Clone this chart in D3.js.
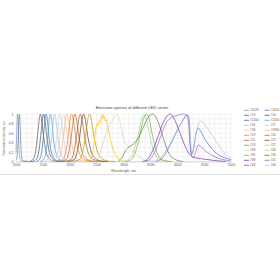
<!DOCTYPE html>
<html><head><meta charset="utf-8">
<script src="https://cdn.jsdelivr.net/npm/d3@7"></script>
<style>html,body{margin:0;padding:0;background:#fff;}svg{display:block;font-family:"Liberation Sans",Arial,sans-serif;}</style>
</head><body><svg id="c" width="280" height="280"></svg>
<script>
// ---- data ----
const seriesNames = ["#1025","#1050","#13","#14","#1200","#1550","#16","#17","#18","#1900","#19","#20",
                     "#21","#22","#23","#27","#28","#34","#35","#36","#38","#41","#43","#44"];
const seriesColors = ["#8497B0","#6B7FAD","#595959","#44546A","#2E75B6","#5B9BD5","#9DC3E6","#BDD7EE",
                      "#F8CBAD","#F4B183","#ED7D31","#C55A11","#A0612A","#843C0C","#BF9000","#FFC000",
                      "#C5E0B4","#A9D18E","#70AD47","#548235","#7030A0","#9966CC","#4472C4","#B4C7E7"];
const xTicks = [1000,1500,2000,2500,3000,3500,4000,4500,5000];
const yTicks = [0,0.2,0.4,0.6,0.8,1];

const s1025 = [[1000,0.18],[1010,0.45],[1020,0.85],[1030,1],[1040,0.85],[1050,0.45],[1065,0.15],[1080,0.04],[1100,0.01],[1200,0]];
const s1050 = [[1000,0.02],[1020,0.1],[1040,0.45],[1055,0.9],[1062,1],[1070,0.9],[1085,0.45],[1100,0.15],[1120,0.04],[1150,0.01],[1300,0]];
const s13 = [[1250,0],[1320,0.05],[1370,0.25],[1410,0.65],[1440,0.95],[1455,1],[1475,0.9],[1510,0.55],[1560,0.2],[1620,0.06],[1700,0.01],[1800,0]];
const s14 = [[1300,0],[1380,0.05],[1430,0.25],[1470,0.65],[1500,0.95],[1515,1],[1535,0.9],[1570,0.55],[1620,0.2],[1680,0.06],[1760,0.01],[1850,0]];
const s1200 = [[1380,0],[1440,0.05],[1490,0.3],[1525,0.7],[1550,0.97],[1562,1],[1580,0.9],[1615,0.5],[1660,0.18],[1720,0.05],[1800,0.01],[1900,0]];
const s1550 = [[1450,0],[1520,0.05],[1570,0.3],[1605,0.7],[1630,0.97],[1642,1],[1660,0.9],[1695,0.5],[1745,0.18],[1810,0.05],[1900,0.01],[2000,0]];
const s16 = [[1520,0],[1590,0.05],[1640,0.3],[1680,0.7],[1708,0.97],[1720,1],[1740,0.9],[1780,0.5],[1830,0.18],[1900,0.05],[2000,0.01],[2100,0]];
const s17 = [[1600,0],[1680,0.05],[1735,0.3],[1775,0.7],[1805,0.97],[1820,1],[1842,0.9],[1885,0.5],[1940,0.18],[2010,0.05],[2100,0.01],[2200,0]];
const s18 = [[1650,0],[1740,0.05],[1795,0.3],[1840,0.7],[1873,0.97],[1890,1],[1912,0.9],[1958,0.5],[2015,0.18],[2090,0.05],[2180,0.01],[2300,0]];
const s1900 = [[1710,0],[1800,0.05],[1855,0.3],[1900,0.7],[1933,0.97],[1950,1],[1972,0.9],[2018,0.5],[2075,0.18],[2150,0.05],[2240,0.01],[2360,0]];
const s19 = [[1780,0],[1880,0.05],[1940,0.3],[1988,0.7],[2022,0.97],[2040,1],[2064,0.9],[2114,0.5],[2175,0.18],[2255,0.05],[2350,0.01],[2470,0]];
const s20 = [[1840,0],[1940,0.05],[2000,0.3],[2048,0.7],[2082,0.97],[2100,1],[2124,0.9],[2174,0.5],[2235,0.18],[2315,0.05],[2410,0.01],[2530,0]];
const s21 = [[1920,0],[2030,0.05],[2095,0.3],[2145,0.7],[2182,0.97],[2200,1],[2226,0.9],[2280,0.5],[2345,0.18],[2430,0.05],[2530,0.01],[2650,0]];
const s22 = [[1980,0],[2090,0.05],[2155,0.3],[2205,0.7],[2242,0.97],[2260,1],[2286,0.9],[2340,0.5],[2405,0.18],[2490,0.05],[2590,0.01],[2710,0]];
const s23 = [[2070,0],[2190,0.05],[2260,0.3],[2313,0.7],[2352,0.97],[2370,1],[2398,0.9],[2455,0.5],[2525,0.18],[2615,0.05],[2720,0.01],[2850,0]];
const s27 = [[2300,0],[2380,0.05],[2430,0.2],[2460,0.45],[2490,0.72],[2510,0.8],[2530,0.76],[2550,0.86],[2570,0.82],[2590,0.95],[2610,1],[2625,0.9],[2640,0.96],[2660,0.85],[2680,0.88],[2700,0.75],[2730,0.62],[2760,0.45],[2800,0.28],[2850,0.14],[2900,0.06],[2960,0.02],[3050,0]];
const s28 = [[2450,0],[2530,0.08],[2600,0.3],[2650,0.5],[2700,0.65],[2750,0.78],[2800,0.88],[2850,0.97],[2880,1],[2920,0.9],[2960,0.7],[3000,0.48],[3050,0.36],[3120,0.3],[3200,0.2],[3300,0.09],[3400,0.03],[3550,0]];
const s34 = [[3000,0],[3100,0.05],[3200,0.25],[3280,0.6],[3340,0.9],[3380,1],[3420,0.92],[3480,0.6],[3540,0.3],[3600,0.12],[3700,0.03],[3850,0]];
const s35 = [[3050,0],[3150,0.05],[3250,0.3],[3330,0.7],[3390,0.95],[3430,1],[3470,0.93],[3530,0.6],[3590,0.3],[3660,0.1],[3760,0.02],[3900,0]];
const s36 = [[2900,0],[2980,0.1],[3050,0.25],[3120,0.32],[3200,0.38],[3300,0.55],[3400,0.8],[3480,0.96],[3540,1],[3600,0.94],[3680,0.72],[3760,0.42],[3850,0.16],[3950,0.05],[4100,0]];
const s38 = [[3350,0],[3450,0.05],[3550,0.25],[3650,0.55],[3750,0.85],[3830,0.98],[3870,1],[3920,0.95],[4000,0.75],[4100,0.45],[4200,0.2],[4300,0.09],[4500,0.05],[4700,0.02],[4900,0]];
const s41 = [[3400,0],[3500,0.05],[3600,0.25],[3700,0.55],[3800,0.82],[3900,0.93],[4000,0.97],[4100,1],[4180,0.97],[4220,0.7],[4250,0.2],[4290,0.08],[4330,0.15],[4390,0.35],[4450,0.3],[4550,0.2],[4700,0.1],[4850,0.04],[5000,0.01]];
const s43 = [[3600,0],[3700,0.05],[3800,0.2],[3900,0.42],[4000,0.65],[4100,0.86],[4180,0.98],[4215,0.95],[4240,0.4],[4270,0.15],[4310,0.3],[4350,0.6],[4390,0.7],[4430,0.65],[4500,0.5],[4600,0.33],[4700,0.2],[4800,0.12],[4900,0.07],[5000,0.04]];
const s44 = [[3500,0],[3650,0.05],[3800,0.25],[3900,0.45],[4000,0.67],[4100,0.85],[4180,0.95],[4225,0.9],[4250,0.4],[4275,0.2],[4310,0.35],[4370,0.7],[4420,0.84],[4460,0.85],[4530,0.75],[4620,0.6],[4720,0.43],[4820,0.26],[4920,0.13],[5000,0.07]];

const spectra = [s1025,s1050,s13,s14,s1200,s1550,s16,s17,s18,s1900,s19,s20,
                 s21,s22,s23,s27,s28,s34,s35,s36,s38,s41,s43,s44];

// ---- chart ----
const svg = d3.select("#c");
const x = d3.scaleLinear().domain([1000,5000]).range([16,231]);
const y = d3.scaleLinear().domain([0,1]).range([161.5,114]);

// bottom chart border
svg.append("line").attr("x1",0).attr("x2",280).attr("y1",174.5).attr("y2",174.5)
   .attr("stroke","#d9d9d9").attr("stroke-width",0.8);

// gridlines
const g = svg.append("g");
g.selectAll(".vg").data(d3.range(1000,5001,100)).join("line")
  .attr("x1",d=>x(d)).attr("x2",d=>x(d)).attr("y1",y(1)).attr("y2",y(0))
  .attr("stroke","#e6e6e6").attr("stroke-width",0.5);
g.selectAll(".hg").data(d3.range(0,11).map(i=>i/10)).join("line")
  .attr("x1",x(1000)).attr("x2",x(5000)).attr("y1",d=>y(d)).attr("y2",d=>y(d))
  .attr("stroke","#e6e6e6").attr("stroke-width",0.5);

// axes
const xAxis = d3.axisBottom(x).tickValues(xTicks).tickSize(0).tickPadding(2.5).tickFormat(d3.format("d"));
const ax = svg.append("g").attr("transform",`translate(0,${y(0)})`).call(xAxis);
ax.select(".domain").attr("stroke","#bfbfbf").attr("stroke-width",0.6);
ax.selectAll("text").attr("font-size",3.4).attr("fill","#595959").attr("font-family",null);

const yAxis = d3.axisLeft(y).tickValues(yTicks).tickSize(0).tickPadding(2.5).tickFormat(d=>String(d));
const ay = svg.append("g").attr("transform",`translate(${x(1000)},0)`).call(yAxis);
ay.select(".domain").remove();
ay.selectAll("text").attr("font-size",3.4).attr("fill","#595959").attr("font-family",null);

// series
const line = d3.line().x(d=>x(d[0])).y(d=>y(d[1])).curve(d3.curveMonotoneX);
svg.append("g").selectAll("path").data(spectra).join("path")
  .attr("d",line).attr("fill","none")
  .attr("stroke",(d,i)=>seriesColors[i]).attr("stroke-width",0.7);

// titles
svg.append("text").attr("x",132).attr("y",108.5).attr("text-anchor","middle")
  .attr("font-size",4.1).attr("fill","#404040").text("Emission spectra of different LED series");
svg.append("text").attr("x",x(3000)).attr("y",172).attr("text-anchor","middle")
  .attr("font-size",3.5).attr("fill","#595959").text("Wavelength, nm");
svg.append("text").attr("transform",`translate(5,${(y(0)+y(1))/2}) rotate(-90)`).attr("text-anchor","middle")
  .attr("font-size",3.2).attr("fill","#595959").text("Normalized intensity, a.u.");

// legend
const lg = svg.append("g").selectAll("g").data(seriesNames).join("g")
  .attr("transform",(d,i)=>`translate(${i%2===0?244:264.5},${110.3+Math.floor(i/2)*5})`);
lg.append("line").attr("x1",0).attr("x2",5).attr("y1",0).attr("y2",0)
  .attr("stroke",(d,i)=>seriesColors[i]).attr("stroke-width",0.8);
lg.append("text").attr("x",6).attr("y",1.1).attr("font-size",3.1).attr("fill","#595959").text(d=>d);
</script></body></html>
